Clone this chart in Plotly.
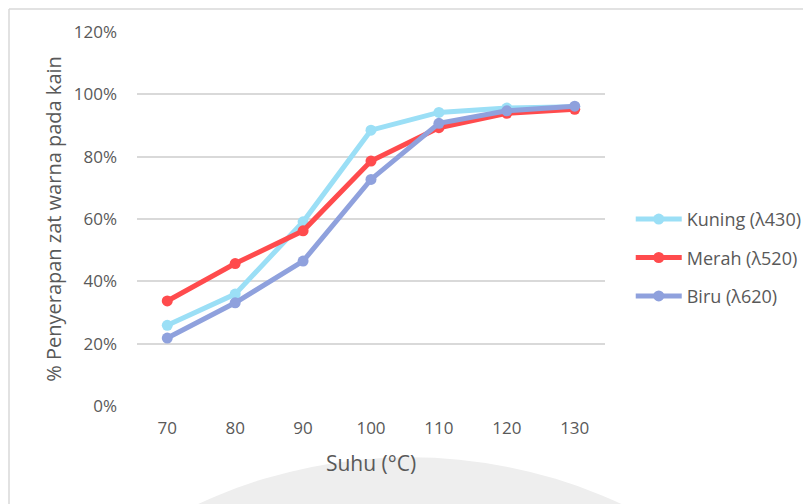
import plotly.graph_objects as go

suhu = ["70", "80", "90", "100", "110", "120", "130"]
kuning = [0.259, 0.359, 0.591, 0.885, 0.942, 0.956, 0.960]
merah = [0.337, 0.457, 0.562, 0.786, 0.893, 0.939, 0.952]
biru = [0.218, 0.331, 0.465, 0.727, 0.907, 0.947, 0.962]

series = [
    ("Kuning (λ430)", kuning, "#9BDFF6"),
    ("Merah (λ520)", merah, "#FF4B4D"),
    ("Biru (λ620)", biru, "#8FA1DD"),
]

fig = go.Figure()
for i, (name, vals, col) in enumerate(series):
    fig.add_trace(go.Scatter(
        x=suhu, y=vals, name=name, mode="lines+markers",
        line=dict(color=col, width=5),
        marker=dict(color=col, size=11),
        legendgroup=f"g{i}",
    ))

font_fam = "Open Sans, Liberation Sans, sans-serif"
grey = "#595959"

fig.update_layout(
    width=811, height=496,
    margin=dict(l=129, r=214, t=24, b=98, autoexpand=False),
    paper_bgcolor="white", plot_bgcolor="rgba(0,0,0,0)",
    font=dict(family=font_fam, color=grey, size=16),
    showlegend=True,
    legend=dict(x=1.055, y=0.396, xanchor="left", yanchor="middle",
                font=dict(size=18, color=grey), tracegroupgap=12,
                itemwidth=46, bgcolor="rgba(0,0,0,0)"),
    xaxis=dict(type="category", showgrid=False, showline=False, zeroline=False,
               ticks="", tickfont=dict(size=17, color=grey), ticklabelstandoff=10,
               title=dict(text="Suhu (°C)", font=dict(size=21, color=grey), standoff=18)),
    yaxis=dict(range=[0, 1.2], dtick=0.2, tickformat=".0%",
               showgrid=True, gridcolor="#D9D9D9", gridwidth=1.5,
               zeroline=False, showline=False, ticks="",
               tickfont=dict(size=17, color=grey), ticklabelstandoff=19,
               title=dict(text="% Penyerapan zat warna pada kain",
                          font=dict(size=20, color=grey), standoff=6)),
)

# faint watermark disc at the bottom
fig.add_shape(type="circle", xref="paper", yref="paper", layer="below",
              x0=-0.49, x1=1.656, y0=-2.821, y1=-0.137,
              fillcolor="#EEEEEE", line=dict(width=0))

# chart border (top and left edges visible)
fig.add_shape(type="line", xref="paper", yref="paper",
              x0=-0.2735, x1=1.5, y0=1.0615, y1=1.0615,
              line=dict(color="#D9D9D9", width=1.5))
fig.add_shape(type="line", xref="paper", yref="paper",
              x0=-0.2735, x1=-0.2735, y0=-0.3, y1=1.0615,
              line=dict(color="#D9D9D9", width=1.5))

fig.write_html("out.html")
